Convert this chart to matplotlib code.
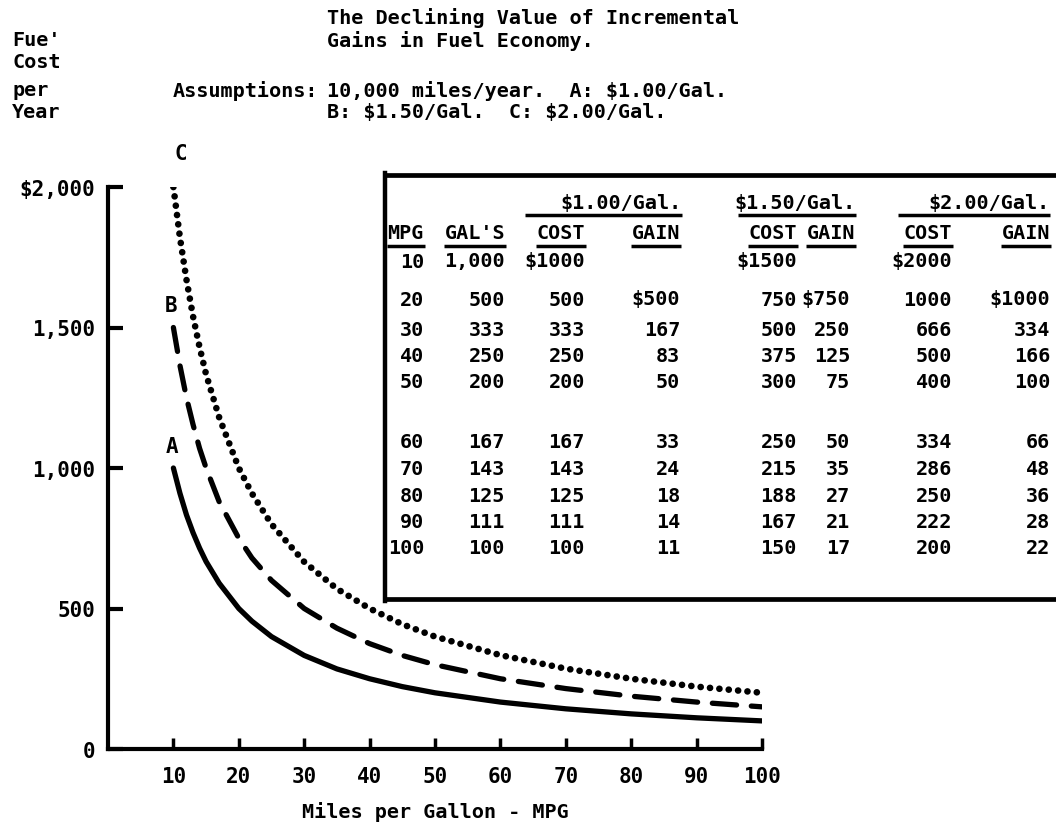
import matplotlib
matplotlib.use("Agg")
import matplotlib.pyplot as plt
from matplotlib.lines import Line2D

plt.rcParams["text.parse_math"] = False

# curve values (fuel cost per year, 10,000 miles)
curve_mpg = [10, 11, 12, 13, 14, 15, 17, 20, 22, 25, 30, 35, 40, 45, 50, 60, 70, 80, 90, 100]
cost_a = [1000, 910, 833, 770, 715, 667, 590, 500, 455, 400, 333, 285, 250, 222, 200, 167, 143, 125, 111, 100]
cost_b = [1500, 1365, 1250, 1155, 1070, 1000, 880, 750, 680, 600, 500, 430, 375, 333, 300, 250, 215, 188, 167, 150]
cost_c = [2000, 1820, 1670, 1540, 1430, 1333, 1180, 1000, 910, 800, 666, 570, 500, 444, 400, 334, 286, 250, 222, 200]

# table values
mpg = [10, 20, 30, 40, 50, 60, 70, 80, 90, 100]
gals = [1000, 500, 333, 250, 200, 167, 143, 125, 111, 100]
cost_100 = [1000, 500, 333, 250, 200, 167, 143, 125, 111, 100]
gain_100 = [None, 500, 167, 83, 50, 33, 24, 18, 14, 11]
cost_150 = [1500, 750, 500, 375, 300, 250, 215, 188, 167, 150]
gain_150 = [None, 750, 250, 125, 75, 50, 35, 27, 21, 17]
cost_200 = [2000, 1000, 666, 500, 400, 334, 286, 250, 222, 200]
gain_200 = [None, 1000, 334, 166, 100, 66, 48, 36, 28, 22]

y_ticks = [0, 500, 1000, 1500, 2000]
y_tick_labels = ["0", "500", "1,000", "1,500", "$2,000"]
x_ticks = [10, 20, 30, 40, 50, 60, 70, 80, 90, 100]

W, H = 1056, 828
FONT = "DejaVu Sans Mono"


def px(x, y):
    return x / W, 1 - y / H


def ftext(x, y, s, size=14.5, ha="left"):
    fig.text(*px(x, y), s, fontsize=size, family=FONT, weight="bold",
             ha=ha, va="center", color="black")


def hline(x0, x1, y, lw=2.5):
    (a, b), (c, _) = px(x0, y), px(x1, y)
    fig.add_artist(Line2D([a, c], [b, b], color="black", lw=lw,
                          solid_capstyle="butt", transform=fig.transFigure))


fig = plt.figure(figsize=(W / 100, H / 100), dpi=100)
fig.patch.set_facecolor("white")

ax = fig.add_axes([108 / W, 78 / H, 654 / W, 562 / H])
ax.plot(curve_mpg, cost_a, color="black", lw=3.8, solid_capstyle="round")
ax.plot(curve_mpg, cost_b, color="black", lw=3.8,
        linestyle=(0, (4.6, 2.8)), dash_capstyle="round")
ax.plot(curve_mpg, cost_c, color="black", lw=4.8,
        linestyle=(0, (0.01, 1.4)), dash_capstyle="round")

for lab, x, y in [("C", 11.1, 2120), ("B", 9.7, 1580), ("A", 9.8, 1080)]:
    ax.text(x, y, lab, fontsize=15, family=FONT, weight="bold",
            ha="center", va="center", clip_on=False)

ax.set_xlim(0, 100)
ax.set_ylim(0, 2000)
for side in ["top", "right"]:
    ax.spines[side].set_visible(False)
for side in ["left", "bottom"]:
    ax.spines[side].set_linewidth(3)
ax.spines["left"].set_bounds(0, 2000)
ax.set_yticks(y_ticks)
ax.set_yticklabels(y_tick_labels)
ax.set_xticks(x_ticks)
ax.set_xticklabels([str(v) for v in x_ticks])
ax.tick_params(axis="y", direction="in", length=11, width=3, pad=9)
ax.tick_params(axis="x", direction="in", length=8, width=2.5, pad=12)
for t in ax.get_xticklabels() + ax.get_yticklabels():
    t.set_fontfamily(FONT)
    t.set_fontweight("bold")
    t.set_fontsize(15)
ax.set_xlabel("Miles per Gallon - MPG", fontsize=14.5, family=FONT,
              weight="bold", labelpad=11)

# titles and notes
ftext(327, 18, "The Declining Value of Incremental")
ftext(327, 41, "Gains in Fuel Economy.")
ftext(318, 91, "Assumptions:", ha="right")
ftext(327, 91, "10,000 miles/year.  A: $1.00/Gal.")
ftext(327, 113, "B: $1.50/Gal.  C: $2.00/Gal.")
for s, y in [("Fue'", 41), ("Cost", 63), ("per", 91), ("Year", 113)]:
    ftext(12, y, s)

# table box
hline(383, W + 5, 176, lw=3.4)
hline(383, W + 5, 600, lw=3.4)
(a, b), (_, d) = px(385, 174), px(385, 602)
fig.add_artist(Line2D([a, a], [b, d], color="black", lw=3.2,
                      transform=fig.transFigure))

groups = [("$1.00/Gal.", 682, 525), ("$1.50/Gal.", 856, 738),
          ("$2.00/Gal.", 1050, 898)]
for s, right, left in groups:
    ftext(right, 203, s, ha="right")
    hline(left, right, 216)

col_right = [424, 505, 585, 680, 797, 855, 952, 1050]
col_names = ["MPG", "GAL'S", "COST", "GAIN", "COST", "GAIN", "COST", "GAIN"]
for name, right in zip(col_names, col_right):
    ftext(right, 234, name, ha="right")
    hline(right - 12 * len(name) - 1, right + 1, 247)

row_y = [262, 300, 331, 357, 382, 443, 470, 497, 523, 548]
columns = [mpg, gals, cost_100, gain_100, cost_150, gain_150, cost_200, gain_200]
value_right = [424, 505, 585, 680, 797, 850, 952, 1050]
for ci, (col, right) in enumerate(zip(columns, value_right)):
    first = True
    for v, y in zip(col, row_y):
        if v is None:
            continue
        if ci == 1 and v >= 1000:
            s = f"{v:,}"
        else:
            s = str(v)
        if ci >= 2 and first:
            s = "$" + s
        first = False
        ftext(right, y, s, ha="right")

fig.savefig("out.png", dpi=100)
